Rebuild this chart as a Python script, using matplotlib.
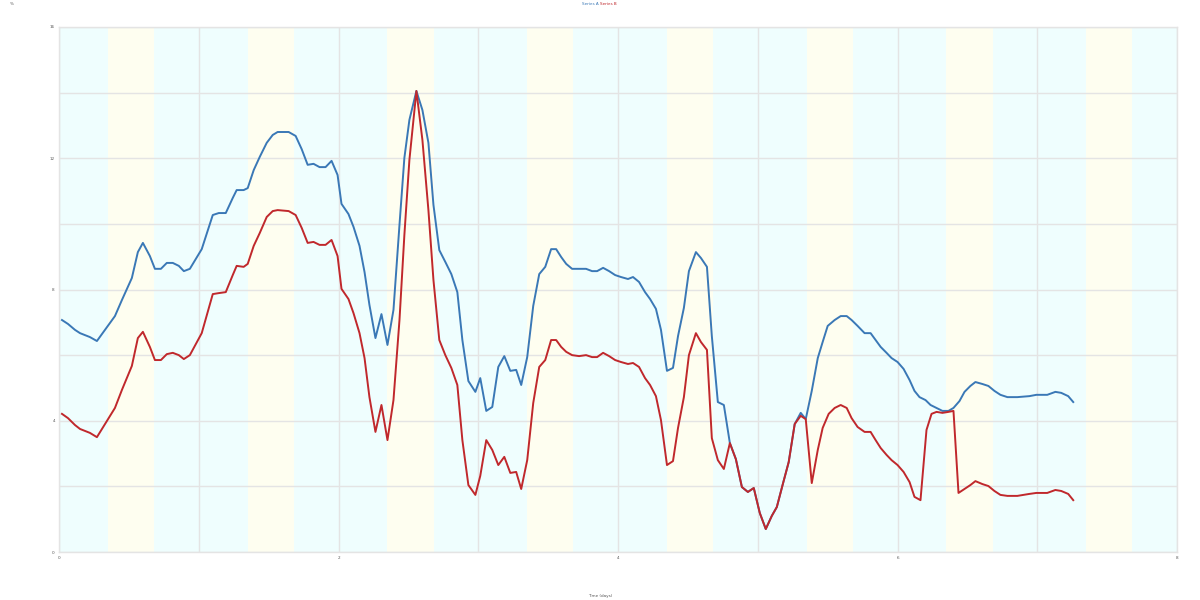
import matplotlib
matplotlib.use("Agg")
from matplotlib import pyplot as plt
import numpy as np

# blue series (days, value)
x_blue = [0.021, 0.064, 0.114, 0.150, 0.221, 0.271, 0.329, 0.400, 0.450, 0.521, 0.564, 0.600,
          0.650, 0.686, 0.729, 0.771, 0.814, 0.857, 0.893, 0.936, 1.021, 1.100, 1.143, 1.193,
          1.243, 1.271, 1.321, 1.350, 1.393, 1.436, 1.486, 1.529, 1.564, 1.643, 1.693, 1.736,
          1.779, 1.821, 1.864, 1.907, 1.950, 1.993, 2.021, 2.071, 2.107, 2.150, 2.186, 2.221,
          2.264, 2.307, 2.350, 2.393, 2.436, 2.471, 2.507, 2.557, 2.600, 2.643, 2.679, 2.721,
          2.764, 2.807, 2.850, 2.886, 2.929, 2.979, 3.014, 3.057, 3.100, 3.143, 3.186, 3.229,
          3.271, 3.307, 3.350, 3.393, 3.436, 3.479, 3.521, 3.557, 3.593, 3.629, 3.671, 3.721,
          3.771, 3.814, 3.850, 3.893, 3.936, 3.979, 4.021, 4.071, 4.107, 4.150, 4.193, 4.229,
          4.271, 4.307, 4.350, 4.393, 4.429, 4.471, 4.507, 4.557, 4.593, 4.636, 4.671, 4.714,
          4.757, 4.800, 4.843, 4.886, 4.929, 4.971, 5.014, 5.057, 5.100, 5.136, 5.179, 5.221,
          5.264, 5.307, 5.343, 5.386, 5.429, 5.464, 5.500, 5.550, 5.593, 5.636, 5.671, 5.714,
          5.764, 5.807, 5.843, 5.879, 5.921, 5.957, 6.000, 6.043, 6.086, 6.121, 6.157, 6.200,
          6.236, 6.279, 6.321, 6.364, 6.400, 6.443, 6.479, 6.521, 6.557, 6.607, 6.650, 6.693,
          6.736, 6.786, 6.857, 6.943, 6.993, 7.071, 7.129, 7.171, 7.221, 7.257]
y_blue = [7.07, 6.95, 6.77, 6.67, 6.55, 6.43, 6.77, 7.19, 7.68, 8.35, 9.14, 9.42,
          9.02, 8.63, 8.63, 8.81, 8.81, 8.72, 8.56, 8.63, 9.23, 10.27, 10.33, 10.33,
          10.79, 11.03, 11.03, 11.09, 11.64, 12.04, 12.47, 12.71, 12.80, 12.80, 12.68, 12.28,
          11.80, 11.83, 11.73, 11.73, 11.92, 11.49, 10.61, 10.30, 9.91, 9.33, 8.53, 7.53,
          6.52, 7.25, 6.31, 7.38, 9.97, 12.01, 13.17, 14.05, 13.47, 12.47, 10.58, 9.20,
          8.84, 8.47, 7.92, 6.46, 5.21, 4.88, 5.30, 4.30, 4.42, 5.64, 5.97, 5.52,
          5.55, 5.09, 5.94, 7.50, 8.47, 8.69, 9.23, 9.23, 8.99, 8.78, 8.63, 8.63,
          8.63, 8.56, 8.56, 8.66, 8.56, 8.44, 8.38, 8.32, 8.38, 8.23, 7.92, 7.71,
          7.41, 6.77, 5.52, 5.61, 6.58, 7.44, 8.56, 9.14, 8.96, 8.69, 6.58, 4.57,
          4.48, 3.32, 2.83, 1.98, 1.83, 1.95, 1.19, 0.70, 1.10, 1.37, 2.07, 2.74,
          3.90, 4.24, 4.05, 4.91, 5.91, 6.40, 6.89, 7.07, 7.19, 7.19, 7.07, 6.89,
          6.67, 6.67, 6.46, 6.25, 6.07, 5.91, 5.79, 5.58, 5.24, 4.91, 4.72, 4.63,
          4.48, 4.39, 4.30, 4.30, 4.39, 4.60, 4.88, 5.06, 5.18, 5.12, 5.06, 4.91,
          4.79, 4.72, 4.72, 4.75, 4.79, 4.79, 4.88, 4.85, 4.75, 4.57]

# red series (days, value)
x_red = [0.021, 0.064, 0.114, 0.150, 0.221, 0.271, 0.329, 0.400, 0.450, 0.521, 0.564, 0.600,
         0.650, 0.686, 0.729, 0.771, 0.814, 0.857, 0.893, 0.936, 1.021, 1.100, 1.143, 1.193,
         1.243, 1.271, 1.321, 1.350, 1.393, 1.436, 1.486, 1.529, 1.564, 1.643, 1.693, 1.736,
         1.779, 1.821, 1.864, 1.907, 1.950, 1.993, 2.021, 2.071, 2.107, 2.150, 2.186, 2.221,
         2.264, 2.307, 2.350, 2.393, 2.436, 2.471, 2.507, 2.557, 2.600, 2.643, 2.679, 2.721,
         2.764, 2.807, 2.850, 2.886, 2.929, 2.979, 3.014, 3.057, 3.100, 3.143, 3.186, 3.229,
         3.271, 3.307, 3.350, 3.393, 3.436, 3.479, 3.521, 3.557, 3.593, 3.629, 3.671, 3.721,
         3.771, 3.814, 3.850, 3.893, 3.936, 3.979, 4.021, 4.071, 4.107, 4.150, 4.193, 4.229,
         4.271, 4.307, 4.350, 4.393, 4.429, 4.471, 4.507, 4.557, 4.593, 4.636, 4.671, 4.714,
         4.757, 4.800, 4.843, 4.886, 4.929, 4.971, 5.014, 5.057, 5.100, 5.136, 5.179, 5.221,
         5.264, 5.307, 5.343, 5.386, 5.429, 5.464, 5.507, 5.550, 5.593, 5.636, 5.671, 5.714,
         5.764, 5.807, 5.843, 5.879, 5.921, 5.957, 6.000, 6.043, 6.086, 6.121, 6.164, 6.207,
         6.243, 6.279, 6.321, 6.364, 6.400, 6.436, 6.479, 6.521, 6.557, 6.607, 6.650, 6.693,
         6.736, 6.786, 6.857, 6.943, 6.993, 7.071, 7.129, 7.171, 7.221, 7.257]
y_red = [4.21, 4.08, 3.87, 3.75, 3.63, 3.50, 3.90, 4.39, 4.94, 5.67, 6.52, 6.71,
         6.25, 5.85, 5.85, 6.03, 6.07, 6.00, 5.88, 6.00, 6.67, 7.86, 7.89, 7.92,
         8.44, 8.72, 8.69, 8.78, 9.33, 9.72, 10.21, 10.39, 10.42, 10.39, 10.27, 9.88,
         9.42, 9.45, 9.36, 9.36, 9.51, 9.02, 8.02, 7.71, 7.28, 6.67, 5.91, 4.72,
         3.66, 4.48, 3.41, 4.63, 7.07, 9.66, 11.95, 14.05, 12.56, 10.42, 8.29, 6.46,
         6.00, 5.61, 5.09, 3.41, 2.04, 1.74, 2.32, 3.41, 3.11, 2.65, 2.90, 2.41,
         2.44, 1.92, 2.80, 4.54, 5.64, 5.85, 6.46, 6.46, 6.25, 6.10, 6.00, 5.97,
         6.00, 5.94, 5.94, 6.07, 5.97, 5.85, 5.79, 5.73, 5.76, 5.64, 5.30, 5.09,
         4.75, 4.02, 2.65, 2.77, 3.78, 4.72, 6.00, 6.67, 6.40, 6.16, 3.47, 2.80,
         2.53, 3.32, 2.83, 1.98, 1.83, 1.95, 1.19, 0.70, 1.10, 1.37, 2.07, 2.74,
         3.90, 4.15, 4.05, 2.10, 3.11, 3.78, 4.21, 4.39, 4.48, 4.39, 4.08, 3.81,
         3.66, 3.66, 3.41, 3.17, 2.96, 2.80, 2.65, 2.44, 2.13, 1.68, 1.58, 3.72,
         4.21, 4.27, 4.24, 4.27, 4.30, 1.80, 1.92, 2.04, 2.16, 2.07, 2.01, 1.86,
         1.74, 1.71, 1.71, 1.77, 1.80, 1.80, 1.89, 1.86, 1.77, 1.58]

n_days = 8
band_start = 0.35
band_end = 0.68

fig = plt.figure(figsize=(12, 6), dpi=100)
ax = fig.add_axes([0.0492, 0.08, 0.9317, 0.875])
ax.set_facecolor("#effefe")

for d in range(n_days):
    ax.axvspan(d + band_start, d + band_end, color="#fefef0", lw=0, zorder=0)

ax.plot(x_blue, y_blue, color="#3a78b6", lw=1.4, zorder=3)
ax.plot(x_red, y_red, color="#c0282c", lw=1.4, zorder=4)

ax.set_xlim(0, 8)
ax.set_ylim(0, 16)
ax.set_xticks(np.arange(0, 9, 2))
ax.set_xticks(np.arange(0, 9, 1), minor=True)
ax.set_yticks(np.arange(0, 17, 4))
ax.set_yticks(np.arange(0, 17, 2), minor=True)
ax.grid(True, which="both", color="#e4e4e4", lw=1, zorder=1)
ax.set_axisbelow(True)
ax.tick_params(which="both", length=0, labelsize=3, colors="#555555", pad=3)
for s in ax.spines.values():
    s.set_color("#e4e4e4")
    s.set_linewidth(1)

# x axis title sits near the bottom edge
fig.text(0.5, 0.006, "Time (days)", color="#555555", fontsize=3, ha="center", va="center")
fig.text(0.5, 0.997, "Series A ", color="#3a78b6", fontsize=3, ha="right", va="top")
fig.text(0.5, 0.997, "Series B", color="#c0282c", fontsize=3, ha="left", va="top")
fig.text(0.008, 0.997, "%", color="#555555", fontsize=3, ha="left", va="top")

plt.savefig("out.png", dpi=100)
